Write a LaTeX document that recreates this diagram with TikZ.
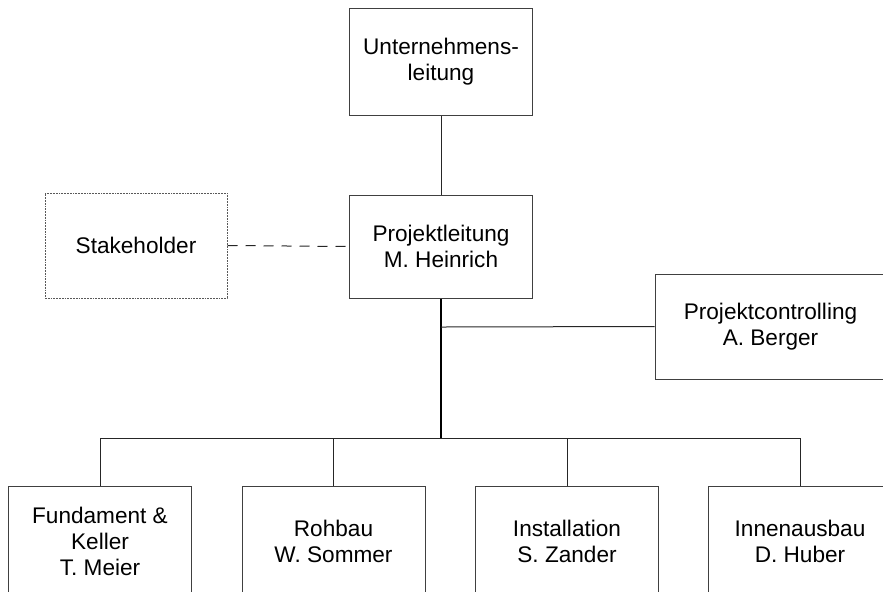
\documentclass[tikz,border=0pt]{standalone}
\usepackage{fontspec}
\setmainfont{Liberation Sans}
\begin{document}
\begin{tikzpicture}[x=0.5pt,y=-0.5pt,
  box/.style={draw=black!75,line width=0.5pt,rectangle,align=center,inner sep=0pt,
    minimum width=91.5pt,font=\fontsize{11.3}{13}\selectfont},
  dotbox/.style={box,draw=black!65,dash pattern=on 0.9pt off 0.5pt},
  conn/.style={draw=black!85,line width=0.5pt},
  trunk/.style={draw=black,line width=1pt}]
\useasboundingbox (0,0) rectangle (883,591);
\begin{scope}
\clip (0,0) rectangle (883,591);
% top management and project lead
\node[box,minimum height=53.5pt] (ul) at (441,62) {Unternehmens-\\leitung};
\node[box,minimum height=51.5pt] (pl) at (441,246.5) {Projektleitung\\M. Heinrich};
\node[dotbox,minimum width=91pt,minimum height=52.5pt] (sh) at (136,245.5) {Stakeholder};
\node[box,minimum width=115.5pt,minimum height=52.5pt] (pc) at (770.5,326.5) {Projektcontrolling\\A. Berger};
% work packages
\node[box,minimum height=55pt] (fk) at (100,541) {Fundament \&\\Keller\\T. Meier};
\node[box,minimum height=55pt] (rb) at (333.5,541) {Rohbau\\W. Sommer};
\node[box,minimum height=55pt] (in) at (567,541) {Installation\\S. Zander};
\node[box,minimum height=55pt] (ia) at (800,541) {Innenausbau\\D. Huber};
\end{scope}
% connectors
\coordinate (bus) at (441,438);
\coordinate (pcj) at (441,327);
\draw[conn] (ul.south) -- (pl.north);
\draw[conn,dash pattern=on 5pt off 4pt] (sh.east) -- (pl.west);
\draw[trunk] (pl.south) -- (bus);
\draw[conn] (pcj) -- (pc.west);
\draw[conn] (bus) -| (fk.north);
\draw[conn] (bus) -| (rb.north);
\draw[conn] (bus) -| (in.north);
\draw[conn] (bus) -| (ia.north);
\end{tikzpicture}
\end{document}
